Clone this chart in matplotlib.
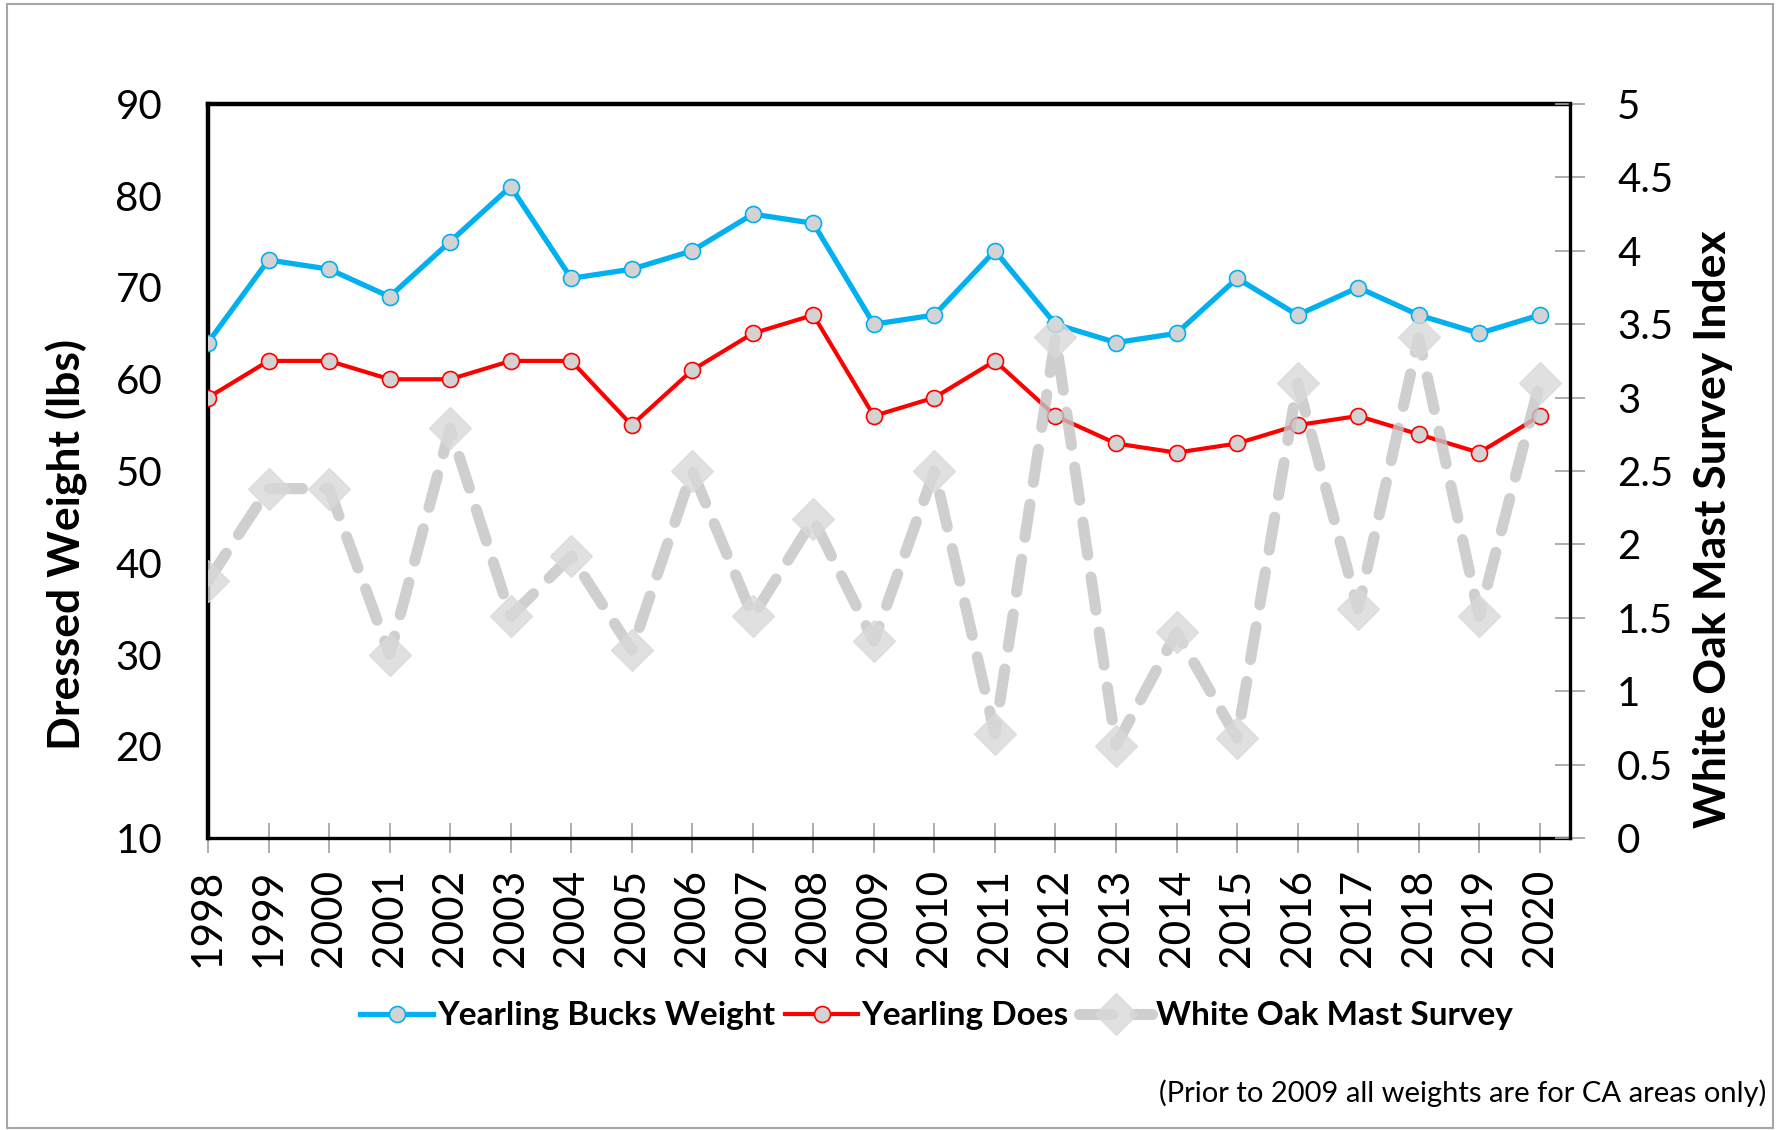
import matplotlib
matplotlib.use('Agg')
import matplotlib.pyplot as plt
from matplotlib.patches import Rectangle
import numpy as np

plt.rcParams['font.family'] = ['Lato', 'DejaVu Sans']

years = list(range(1998, 2021))
bucks = [64, 73, 72, 69, 75, 81, 71, 72, 74, 78, 77, 66, 67, 74, 66, 64, 65, 71, 67, 70, 67, 65, 67]
does = [58, 62, 62, 60, 60, 62, 62, 55, 61, 65, 67, 56, 58, 62, 56, 53, 52, 53, 55, 56, 54, 52, 56]
mast = [1.75, 2.38, 2.38, 1.25, 2.79, 1.51, 1.92, 1.28, 2.5, 1.51, 2.17, 1.34, 2.5,
        0.71, 3.41, 0.63, 1.4, 0.68, 3.1, 1.56, 3.41, 1.51, 3.1]

left_ticks = list(range(10, 91, 10))
right_ticks = [0, 0.5, 1, 1.5, 2, 2.5, 3, 3.5, 4, 4.5, 5]

fig = plt.figure(figsize=(17.8, 11.3), dpi=100)
ax = fig.add_axes([208/1780, 1 - 838/1130, 1362/1780, 734/1130])
ax2 = ax.twinx()

l1, = ax.plot(years, bucks, color='#00B0F0', lw=3.8, marker='o', markersize=11.5,
              markerfacecolor='#D3D3D3', markeredgecolor='#00B0F0', markeredgewidth=1.2,
              label='Yearling Bucks Weight', zorder=3)
l2, = ax.plot(years, does, color='#FF0000', lw=3.0, marker='o', markersize=11.5,
              markerfacecolor='#D3D3D3', markeredgecolor='#FF0000', markeredgewidth=1.2,
              label='Yearling Does', zorder=3)
l3, = ax2.plot(years, mast, color='#C4C4C4', alpha=0.8, lw=8, dashes=(3, 2),
               dash_capstyle='round', marker='D', markersize=21,
               markerfacecolor='#D9D9D9', markeredgecolor='#D9D9D9',
               label='White Oak Mast Survey')

ax.set_xlim(1998, 2020.5)
ax.set_ylim(10, 90)
ax2.set_ylim(0, 5)
ax.set_xticks(years)
ax.set_xticklabels([str(y) for y in years], rotation=90, fontsize=30.5)
ax.set_yticks(left_ticks)
ax.set_yticklabels([str(v) for v in left_ticks], fontsize=29)
ax2.set_yticks(right_ticks)
ax2.set_yticklabels([f'{v:g}' for v in right_ticks], fontsize=29)

ax.tick_params(axis='y', length=0, pad=33)
ax.tick_params(axis='x', direction='inout', length=22, width=1.2, color='#A0A0A0', pad=11)
ax2.tick_params(axis='y', direction='inout', length=22, width=1.2, color='#A0A0A0', pad=23)

for sp in ['top', 'left']:
    ax.spines[sp].set_linewidth(3.2)
    ax.spines[sp].set_color('black')
ax.spines['bottom'].set_linewidth(2.4)
ax.spines['right'].set_visible(False)
ax2.spines['right'].set_linewidth(2.4)
for sp in ['top', 'left', 'bottom']:
    ax2.spines[sp].set_visible(False)

ax.set_ylabel('Dressed Weight (lbs)', fontsize=32, fontweight='bold')
ax.yaxis.set_label_coords(-0.088, 0.4)
ax2.set_ylabel('White Oak Mast Survey Index', fontsize=32, fontweight='bold', rotation=90)
ax2.yaxis.set_label_coords(1.090, 0.421)

fig.legend(handles=[l1, l2, l3], loc='center', bbox_to_anchor=(0.526, 0.101), ncol=3,
           frameon=False, prop={'weight': 'bold', 'size': 24}, handlelength=2.2,
           handletextpad=0.1, columnspacing=0.3)

fig.text(1766/1780, 1 - 1093/1130, '(Prior to 2009 all weights are for CA areas only)',
         ha='right', va='center', fontsize=21)

fig.patches.append(Rectangle((7/1780, 0.002), 1766/1780, 1 - 4/1130 - 0.002,
                             transform=fig.transFigure, fill=False,
                             edgecolor='#A6A6A6', lw=1.5))

plt.savefig('out.png', dpi=100)
plt.close()
